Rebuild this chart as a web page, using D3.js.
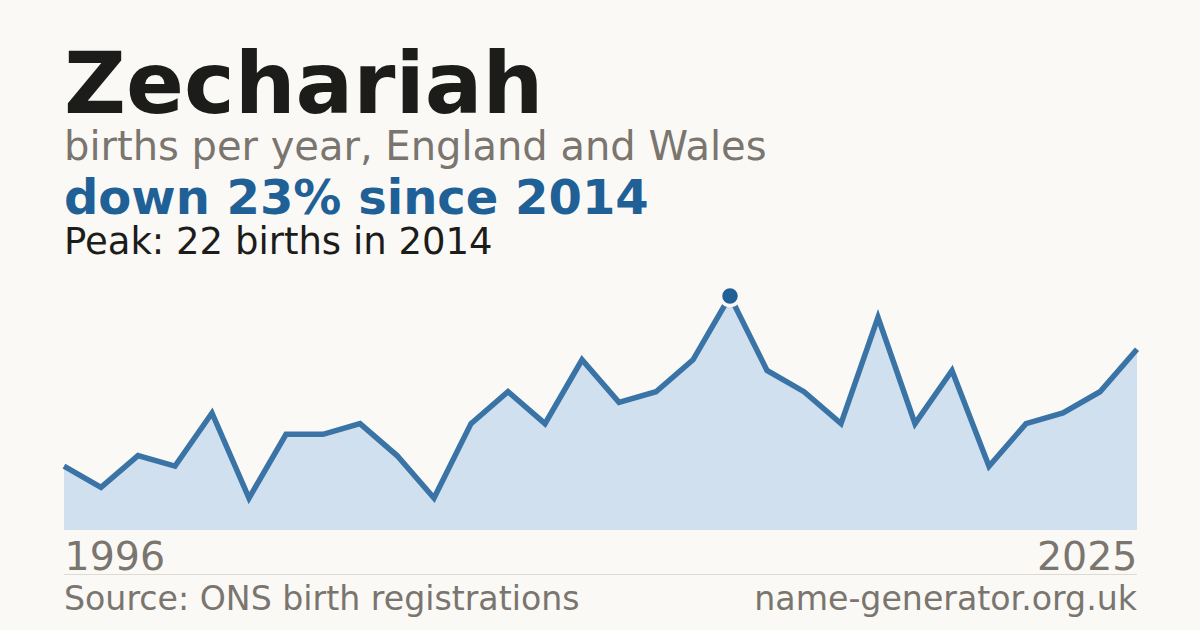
<!DOCTYPE html>
<html>
<head>
<meta charset="utf-8">
<script src="https://cdn.jsdelivr.net/npm/d3@7"></script>
<style>
  html, body { margin: 0; padding: 0; background: #faf9f5; }
  svg { display: block; font-family: "DejaVu Sans", sans-serif; }
</style>
</head>
<body>
<div class="chart"></div>
<script>
const years = d3.range(1996, 2026)
const births = [6, 4, 7, 6, 11, 3, 9, 9, 10, 7, 3, 10, 13, 10, 16, 12, 13, 16, 22, 15, 13, 10, 20, 10, 15, 6, 10, 11, 13, 17]
const data = years.map((y, i) => ({year: y, births: births[i]}))

const width = 1200
const height = 630
const margin = {left: 64, right: 63, top: 296, bottom: 100}

const svg = d3.select(".chart").append("svg")
    .attr("width", width)
    .attr("height", height)

svg.append("rect")
    .attr("width", width)
    .attr("height", height)
    .attr("fill", "#faf9f5")

const x = d3.scaleLinear()
    .domain(d3.extent(years))
    .range([margin.left, width - margin.right])

const y = d3.scaleLinear()
    .domain([0, d3.max(births)])
    .range([height - margin.bottom, margin.top])

// headings
svg.append("text")
    .attr("x", 64).attr("y", 113)
    .text("Zechariah")
    .style("font-size", "85.5px")
    .style("font-weight", "bold")
    .attr("fill", "#1c1c1a")

svg.append("text")
    .attr("x", 64).attr("y", 160)
    .text("births per year, England and Wales")
    .style("font-size", "40px")
    .attr("fill", "#7a756e")

svg.append("text")
    .attr("x", 64).attr("y", 214)
    .text("down 23% since 2014")
    .style("font-size", "48px")
    .style("font-weight", "bold")
    .attr("fill", "#1f6096")

svg.append("text")
    .attr("x", 64).attr("y", 254)
    .text("Peak: 22 births in 2014")
    .style("font-size", "37px")
    .attr("fill", "#1c1c1a")

// area + line
const area = d3.area()
    .x(d => x(d.year))
    .y0(y(0))
    .y1(d => y(d.births))

const line = d3.line()
    .x(d => x(d.year))
    .y(d => y(d.births))

svg.append("path")
    .datum(data)
    .attr("d", area)
    .attr("fill", "#d0e0ef")

svg.append("path")
    .datum(data)
    .attr("d", line)
    .attr("fill", "none")
    .attr("stroke", "#3a73a5")
    .attr("stroke-width", 5.5)
    .attr("stroke-linejoin", "miter")

const peak = data.reduce((a, b) => b.births > a.births ? b : a)
svg.append("circle")
    .attr("cx", x(peak.year))
    .attr("cy", y(peak.births))
    .attr("r", 9.5)
    .attr("fill", "#1f6096")
    .attr("stroke", "#faf9f5")
    .attr("stroke-width", 3.5)

// year labels
const xAxis = d3.axisBottom(x)
    .tickValues(d3.extent(years))
    .tickFormat(d3.format("d"))
    .tickSize(0)

svg.append("g")
    .attr("transform", `translate(0, ${y(0)})`)
    .call(xAxis)
    .call(g => g.select(".domain").remove())
    .call(g => g.selectAll(".tick text")
        .attr("y", 40)
        .attr("dy", 0)
        .style("font-size", "39.5px")
        .style("font-family", "DejaVu Sans")
        .attr("fill", "#7a756e")
        .attr("text-anchor", (d, i) => i === 0 ? "start" : "end"))

svg.append("line")
    .attr("x1", x.range()[0]).attr("x2", x.range()[1])
    .attr("y1", 574.5).attr("y2", 574.5)
    .attr("stroke", "#dedad3")
    .attr("stroke-width", 1)

// footer
svg.append("text")
    .attr("x", 64).attr("y", 610)
    .text("Source: ONS birth registrations")
    .style("font-size", "33.2px")
    .attr("fill", "#7a756e")

svg.append("text")
    .attr("x", x.range()[1]).attr("y", 610)
    .attr("text-anchor", "end")
    .text("name-generator.org.uk")
    .style("font-size", "33.2px")
    .attr("fill", "#7a756e")
</script>
</body>
</html>
